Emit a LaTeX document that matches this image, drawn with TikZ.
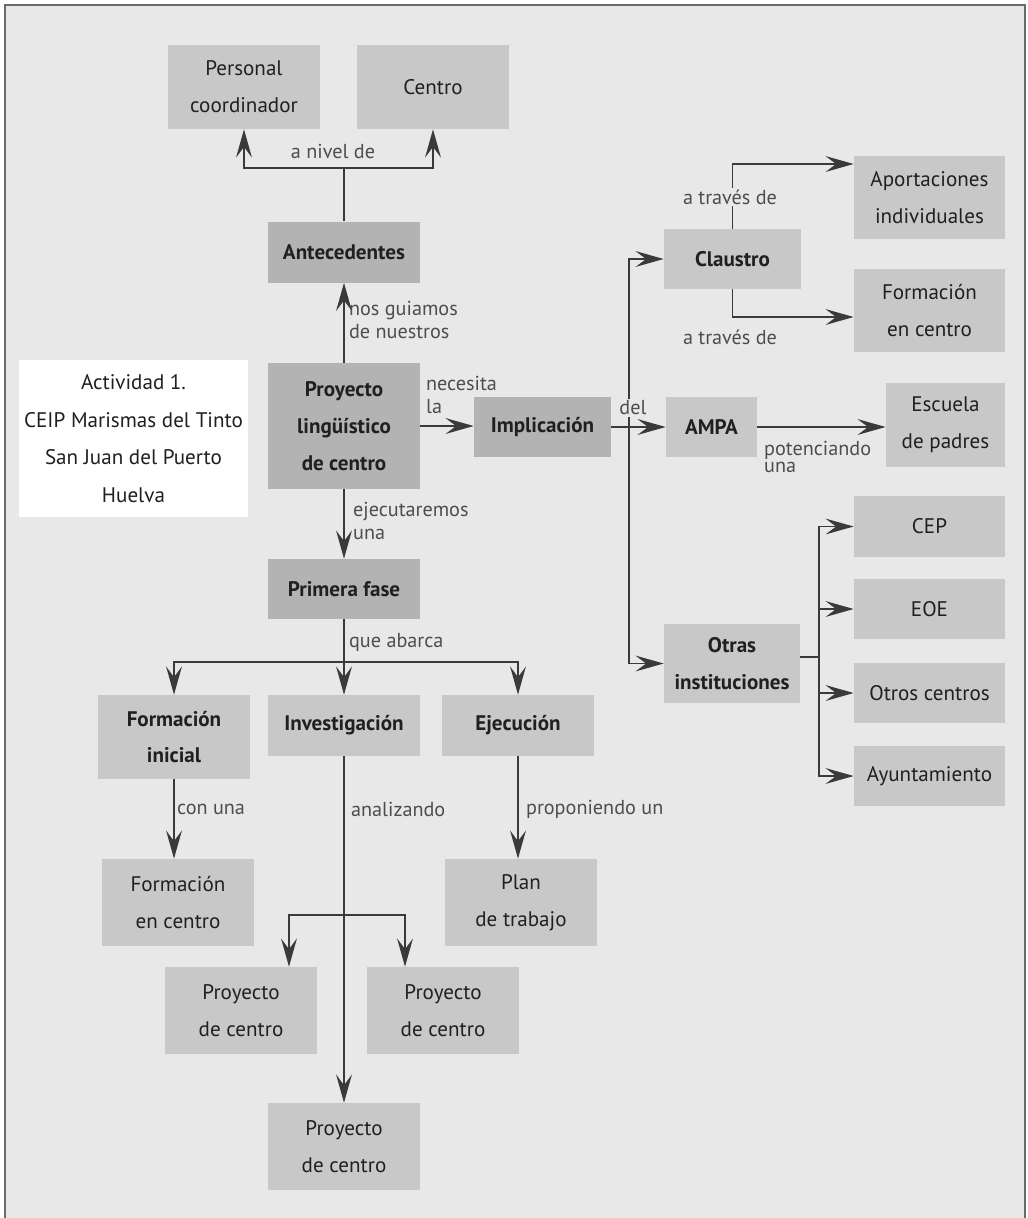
\documentclass[tikz,border=0pt]{standalone}
\usepackage{fontspec}
\setmainfont{PT Sans}
\usetikzlibrary{arrows.meta,positioning,calc}

\definecolor{bggray}{HTML}{E8E8E8}
\definecolor{keygray}{HTML}{B3B3B3}
\definecolor{leafgray}{HTML}{C8C8C8}
\definecolor{ink}{HTML}{231F20}
\definecolor{labelgray}{HTML}{4D4D4D}
\definecolor{wire}{HTML}{3A3A3A}
\definecolor{framegray}{HTML}{6A6A6A}

\begin{document}
\begin{tikzpicture}[
    x=0.02cm, y=-0.02cm,
    box/.style={rectangle, fill=leafgray, text=ink, align=center, inner sep=2pt, minimum width=3.04cm, minimum height=1.68cm, font=\fontsize{12}{21}\selectfont},
    key/.style={box, fill=keygray, font=\fontsize{12}{21}\selectfont\bfseries},
    leafb/.style={box, font=\fontsize{12}{21}\selectfont\bfseries},
    lbl/.style={text=labelgray, font=\fontsize{11.5}{13.5}\selectfont, inner sep=1pt, align=left},
    link/.style={draw=wire, line width=0.7pt},
    arrow/.style={link, -{Stealth[length=16pt, width=9pt, inset=6pt]}}
]
    % page and frame
    \useasboundingbox (0,0) rectangle (1028,1218);
    \fill[bggray] (5,5) rectangle (1025,1218);
    \draw[framegray, line width=1.1pt] (5,1218) -- (5,5) -- (1025,5) -- (1025,1218);

    % central column
    \node[box] (pers) at (244,87) {Personal\\coordinador};
    \node[box] (centro) at (433,87) {Centro};
    \node[key, minimum height=1.22cm] (ante) at (344,252) {Antecedentes};
    \node[key, minimum height=2.52cm] (proy) at (344,426) {Proyecto\\lingüístico\\de centro};
    \node[box, fill=white, font=\fontsize{12}{21.5}\selectfont, minimum width=4.58cm, minimum height=3.14cm] (act) at (133.5,438.5)
        {Actividad 1.\\CEIP Marismas del Tinto\\San Juan del Puerto\\Huelva};
    \node[key, minimum height=1.2cm] (fase) at (344,589) {Primera fase};

    % right side
    \node[key, minimum width=2.74cm, minimum height=1.2cm] (impl) at (542.5,427) {Implicación};
    \node[leafb, minimum width=1.82cm, minimum height=1.2cm] (ampa) at (711.5,427) {AMPA};
    \node[leafb, minimum width=2.74cm, minimum height=1.2cm] (claus) at (732.5,259) {Claustro};
    \node[leafb, minimum width=2.72cm, minimum height=1.58cm] (otras) at (732,663.5) {Otras\\instituciones};
    \node[box, minimum width=3.02cm, minimum height=1.66cm] (aport) at (929.5,197.5) {Aportaciones\\individuales};
    \node[box, minimum width=3.02cm, minimum height=1.66cm] (formr) at (929.5,310.5) {Formación\\en centro};
    \node[box, minimum width=2.38cm] (escu) at (945.5,425) {Escuela\\de padres};
    \node[box, minimum width=3.02cm, minimum height=1.22cm] (cep) at (929.5,526.5) {CEP};
    \node[box, minimum width=3.02cm, minimum height=1.2cm] (eoe) at (929.5,609) {EOE};
    \node[box, minimum width=3.02cm, minimum height=1.2cm] (otros) at (929.5,693) {Otros centros};
    \node[box, minimum width=3.02cm, minimum height=1.2cm] (ayto) at (929.5,776) {Ayuntamiento};

    % lower part
    \node[leafb] (forini) at (174,737) {Formación\\inicial};
    \node[leafb, minimum height=1.22cm] (inv) at (344,725.5) {Investigación};
    \node[leafb, minimum height=1.22cm] (ejec) at (518,725.5) {Ejecución};
    \node[box, minimum height=1.74cm] (formcen) at (178,902.5) {Formación\\en centro};
    \node[box, minimum height=1.74cm] (plan) at (521,902.5) {Plan\\de trabajo};
    \node[box, minimum height=1.74cm] (pl) at (241,1010.5) {Proyecto\\de centro};
    \node[box, minimum height=1.74cm] (pr) at (443,1010.5) {Proyecto\\de centro};
    \node[box, minimum height=1.74cm] (pb) at (344,1146.5) {Proyecto\\de centro};

    % junctions
    \coordinate (nivel) at (344,168);
    \coordinate (del) at (629,427);
    \coordinate (fan) at (819,657);
    \coordinate (abarca) at (344,662);
    \coordinate (anal) at (344,915);

    % connectors
    \draw[link] (ante.north) -- (nivel);
    \draw[arrow] (nivel) -| (pers.south);
    \draw[arrow] (nivel) -| (centro.south);
    \draw[arrow] (proy.north) -- (ante.south);
    \draw[arrow] (proy.east) -- (proy.east -| impl.west);
    \draw[arrow] (proy.south) -- (fase.north);

    \draw[arrow] (impl.east) -- (ampa.west);
    \draw[arrow] (del) |- (claus.west);
    \draw[arrow] (del) |- (otras.west);
    \draw[arrow] (claus.north) |- (aport.west |- 0,164);
    \draw[arrow] (claus.south) |- (formr.west |- 0,317);
    \draw[arrow] (ampa.east) -- (ampa.east -| escu.west);
    \draw[link] (otras.east |- fan) -- (fan);
    \draw[arrow] (fan) |- (cep.west);
    \draw[arrow] (fan) |- (eoe.west);
    \draw[arrow] (fan) |- (otros.west);
    \draw[arrow] (fan) |- (ayto.west);

    \draw[link] (fase.south) -- (abarca);
    \draw[arrow] (abarca) -| (forini.north);
    \draw[arrow] (abarca) -- (inv.north);
    \draw[arrow] (abarca) -| (ejec.north);
    \draw[arrow] (forini.south) -- (forini.south |- formcen.north);
    \draw[arrow] (ejec.south) -- (ejec.south |- plan.north);
    \draw[arrow] (inv.south) -- (pb.north);
    \draw[arrow] (anal) -| ([xshift=0.96cm]pl.north);
    \draw[arrow] (anal) -| ([xshift=-0.76cm]pr.north);

    % connector labels
    \node[lbl] (lnivel) at (333,151) {a nivel de};
    \node[lbl, anchor=west] (lguia) at (347,320) {nos guiamos\\de nuestros};
    \node[lbl, anchor=west] (lnec) at (424,395) {necesita\\la};
    \node[lbl, anchor=west] (lejec) at (351,521) {ejecutaremos\\una};
    \node[lbl, fill=bggray] (ldel) at (633,408) {del};
    \node[lbl, fill=bggray] (ltrav1) at (730,197) {a través de};
    \node[lbl] (ltrav2) at (730,337) {a través de};
    \node[lbl, anchor=west, font=\fontsize{11.5}{10}\selectfont] (lpot) at (762,457) {potenciando\\una};
    \node[lbl, anchor=west] (labar) at (347,642) {que abarca};
    \node[lbl, anchor=west] (lcon) at (175,809) {con una};
    \node[lbl, anchor=west] (lanal) at (349,809) {analizando};
    \node[lbl, anchor=west] (lprop) at (524,809) {proponiendo un};
\end{tikzpicture}
\end{document}
